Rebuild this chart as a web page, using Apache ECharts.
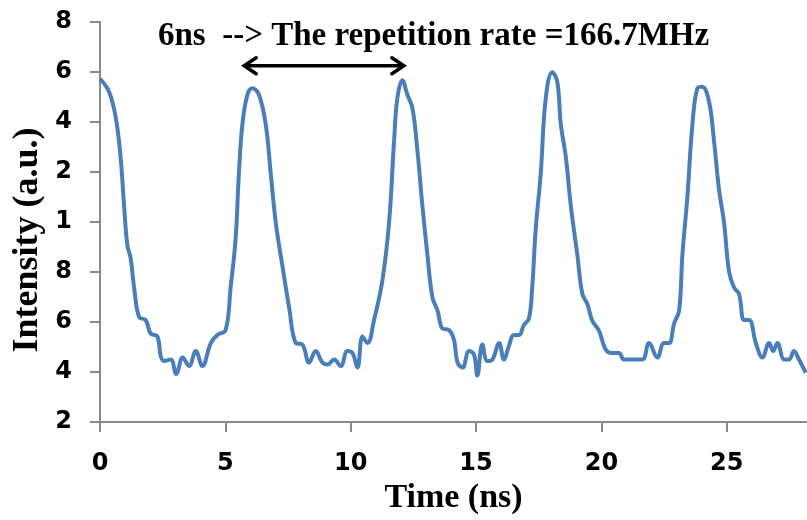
<!DOCTYPE html>
<html>
<head>
<meta charset="utf-8">
<script src="https://cdn.jsdelivr.net/npm/echarts@6/dist/echarts.min.js"></script>
<style>html,body{margin:0;padding:0;background:#fff;}#c{width:807px;height:520px;}</style>
</head>
<body>
<div id="c"></div>
<script>
// Time axis (ns)
const time = [0,0.36,0.63,0.82,0.96,1.09,1.22,1.36,1.56,1.82,2.02,2.29,2.42,2.55,2.82,3.04,
  3.30,3.55,3.82,4.08,4.42,4.68,5.01,5.21,5.41,5.54,5.68,5.88,6.08,6.34,6.61,6.81,7.01,7.27,7.54,7.81,8.07,8.34,8.60,8.87,9.07,
  9.34,9.60,9.87,10.07,10.27,10.47,10.67,10.93,11.26,11.53,11.73,11.86,12.06,12.26,12.46,12.66,12.86,13.06,13.26,13.46,13.66,13.92,14.12,14.26,14.46,14.72,14.92,15.05,15.25,15.45,15.65,
  15.92,16.11,16.31,16.51,16.71,16.91,17.11,17.24,17.38,17.58,17.78,18.04,18.24,18.38,18.58,18.78,19.04,19.24,19.44,19.63,19.90,20.17,20.42,20.70,20.90,21.25,21.63,
  21.90,22.23,22.50,22.70,22.90,23.10,23.23,23.43,23.63,23.83,24.02,24.29,24.49,24.69,24.89,25.09,25.29,25.49,25.69,25.89,26.16,26.42,26.69,26.85,27.02,27.29,27.48,27.68,27.88,28.15];
// Intensity (a.u.)
const intensity = [1.572,1.52,1.416,1.26,1.064,0.908,0.856,0.738,0.62,0.608,0.554,0.542,0.464,0.444,0.45,0.392,
  0.458,0.424,0.484,0.424,0.516,0.548,0.568,0.738,0.934,1.194,1.39,1.508,1.534,1.508,1.39,1.194,0.998,0.828,0.66,0.516,0.51,0.438,0.484,0.438,0.43,
  0.45,0.424,0.484,0.476,0.418,0.542,0.516,0.608,0.764,0.998,1.324,1.494,1.566,1.508,1.456,1.286,1.064,0.868,0.698,0.646,0.574,0.568,0.528,0.438,0.418,0.484,0.47,0.386,0.51,0.444,0.45,
  0.516,0.45,0.504,0.548,0.548,0.588,0.614,0.738,0.972,1.194,1.494,1.598,1.56,1.39,1.26,1.064,0.868,0.712,0.672,0.606,0.566,0.49,0.476,0.476,0.45,0.45,0.45,
  0.516,0.458,0.516,0.516,0.594,0.646,0.868,1.102,1.39,1.534,1.54,1.482,1.324,1.13,0.998,0.802,0.738,0.712,0.608,0.608,0.516,0.458,0.516,0.484,0.516,0.45,0.45,0.484,0.45,0.398];
const xTickValues = [0,5,10,15,20,25];
const yTickValues = [0.2,0.4,0.6,0.8,1.0,1.2,1.4,1.6,1.8];
const yTickLabels = ['2','4','6','8','1','2','4','6','8'];
// Period marker: from peak to peak (ns), at intensity level
const periodArrow = [[5.75, 12.12, 1.624]];
const annotation = '6ns  --> The repetition rate =166.7MHz';
const xTitle = 'Time (ns)';
const yTitle = 'Intensity (a.u.)';

const chart = echarts.init(document.getElementById('c'), null, {renderer: 'canvas'});
const axisCol = '#898989';
chart.setOption({
  animation: false,
  backgroundColor: '#ffffff',
  title: {
    text: annotation,
    left: 153, top: 15,
    textStyle: {fontFamily: 'Liberation Serif', fontWeight: 'bold', fontSize: 33, color: '#000'}
  },
  graphic: [{
    type: 'text', x: 28, y: 240, rotation: Math.PI / 2,
    style: {text: yTitle, align: 'center', verticalAlign: 'middle', fill: '#000',
      font: 'bold 36px "Liberation Serif"'}
  }],
  grid: {left: 100, right: 0, top: 21.7, bottom: 89.3, containLabel: false},
  xAxis: {
    type: 'value', min: 0, max: 28.2,
    name: xTitle, nameLocation: 'middle', nameGap: 54,
    nameTextStyle: {fontFamily: 'Liberation Serif', fontWeight: 'bold', fontSize: 34, color: '#000'},
    axisLine: {show: true, lineStyle: {color: axisCol, width: 2}},
    axisTick: {show: true, length: 10, lineStyle: {color: axisCol, width: 2}, customValues: xTickValues},
    axisLabel: {customValues: xTickValues, margin: 30, fontFamily: 'DejaVu Sans', fontWeight: 'bold', fontSize: 24, color: '#000'},
    splitLine: {show: false}
  },
  yAxis: {
    type: 'value', min: 0.2, max: 1.8,
    axisLine: {show: true, lineStyle: {color: axisCol, width: 2}},
    axisTick: {show: true, length: 10, lineStyle: {color: axisCol, width: 2}, customValues: yTickValues},
    axisLabel: {
      customValues: yTickValues, margin: 28, fontFamily: 'DejaVu Sans', fontWeight: 'bold', fontSize: 24, color: '#000',
      formatter: function (v) {
        let best = 0, d = 1e9;
        yTickValues.forEach((t, i) => { if (Math.abs(t - v) < d) { d = Math.abs(t - v); best = i; } });
        return yTickLabels[best];
      }
    },
    splitLine: {show: false}
  },
  series: [
    {
      type: 'line',
      data: time.map((t, i) => [t, intensity[i]]),
      smooth: 0.4,
      showSymbol: false,
      lineStyle: {color: '#4a7ebb', width: 4},
      clip: true
    },
    {
      type: 'custom',
      data: periodArrow,
      renderItem: function (params, api) {
        const p1 = api.coord([api.value(0), api.value(2)]);
        const p2 = api.coord([api.value(1), api.value(2)]);
        const h = 8, w = 12;
        const st = {stroke: '#000', lineWidth: 3.5, fill: 'none', lineCap: 'round', lineJoin: 'miter'};
        return {
          type: 'group',
          children: [
            {type: 'line', shape: {x1: p1[0] + 2, y1: p1[1], x2: p2[0] - 2, y2: p2[1]}, style: st},
            {type: 'polyline', shape: {points: [[p1[0] + w, p1[1] - h], [p1[0], p1[1]], [p1[0] + w, p1[1] + h]]}, style: st},
            {type: 'polyline', shape: {points: [[p2[0] - w, p2[1] - h], [p2[0], p2[1]], [p2[0] - w, p2[1] + h]]}, style: st}
          ]
        };
      }
    }
  ]
});
</script>
</body>
</html>
